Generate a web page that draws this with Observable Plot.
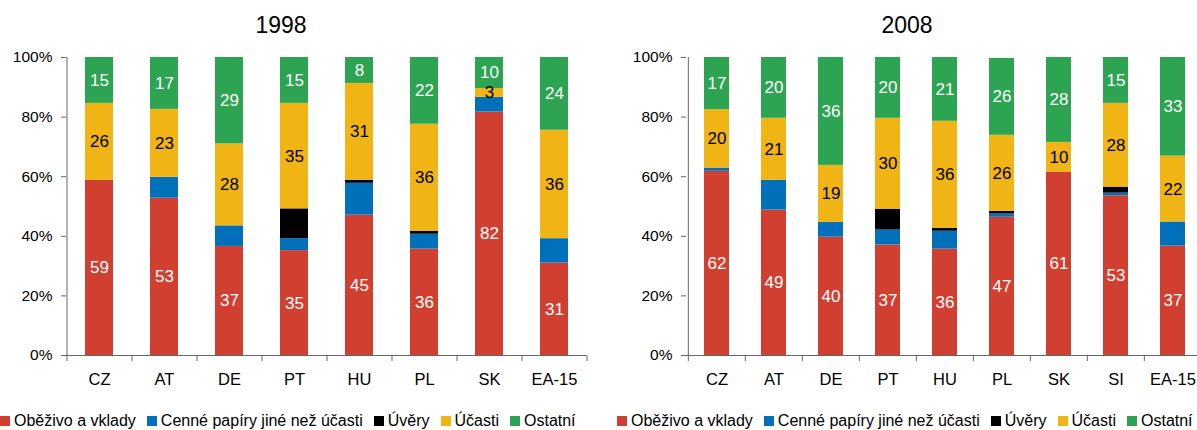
<!DOCTYPE html>
<html><head><meta charset="utf-8">
<script src="https://cdn.jsdelivr.net/npm/d3@7"></script>
<script src="https://cdn.jsdelivr.net/npm/@observablehq/plot@0.6"></script>
<style>
body{margin:0;background:#fff;}
#root{position:relative;width:1197px;height:430px;overflow:hidden;font-family:"Liberation Sans",Arial,sans-serif;color:#000;}
.panel{position:absolute;top:0;}
.panel svg{max-width:none !important;}
.title{position:absolute;top:11px;font-size:23px;line-height:28px;transform:translateX(-50%);}
.legend{position:absolute;top:411px;font-size:16px;line-height:19px;white-space:nowrap;display:flex;align-items:center;}
.legend .item{display:inline-flex;align-items:center;margin-right:11px;}
.legend .sw{display:inline-block;width:10px;height:10px;margin-right:4px;}
</style></head><body><div id="root"></div><script>
const series = ["Oběživo a vklady", "Cenné papíry jiné než účasti", "Úvěry", "Účasti", "Ostatní"];
const colors = ["#d13f31", "#0070ba", "#000000", "#f0b414", "#2ca452"];

const categories1998 = ["CZ", "AT", "DE", "PT", "HU", "PL", "SK", "EA-15"];
const vklady1998  = [58.8, 52.8, 36.6, 35.2, 47.1, 35.7, 81.7, 31.0];
const papiry1998  = [0, 7.0, 6.9, 4.0, 10.7, 5.0, 4.9, 8.2];
const uvery1998   = [0, 0, 0, 10.0, 1.0, 1.0, 0, 0];
const ucasti1998  = [25.8, 22.8, 27.5, 35.4, 32.5, 35.9, 3.0, 36.4];
const ostatni1998 = [15.4, 17.4, 29.0, 15.4, 8.7, 22.4, 10.4, 24.4];
const vkladyLabels1998  = [59, 53, 37, 35, 45, 36, 82, 31];
const ucastiLabels1998  = [26, 23, 28, 35, 31, 36, 3, 36];
const ostatniLabels1998 = [15, 17, 29, 15, 8, 22, 10, 24];

const categories2008 = ["CZ", "AT", "DE", "PT", "HU", "PL", "SK", "SI", "EA-15"];
const vklady2008  = [61.8, 48.8, 39.7, 37.1, 35.7, 46.4, 61.5, 53.6, 36.7];
const papiry2008  = [1.1, 10.0, 5.0, 5.0, 6.0, 1.1, 0, 0.9, 8.1];
const uvery2008   = [0, 0, 0, 7.0, 1.0, 0.9, 0, 2.0, 0];
const ucasti2008  = [19.6, 20.8, 19.1, 30.5, 35.9, 25.5, 10.0, 28.1, 22.1];
const ostatni2008 = [17.5, 20.4, 36.2, 20.4, 21.4, 25.8, 28.5, 15.4, 33.1];
const vkladyLabels2008  = [62, 49, 40, 37, 36, 47, 61, 53, 37];
const ucastiLabels2008  = [20, 21, 19, 30, 36, 26, 10, 28, 22];
const ostatniLabels2008 = [17, 20, 36, 20, 21, 26, 28, 15, 33];

const yTicks = [0, 20, 40, 60, 80, 100];
const axisColor = "#666";
const font = '"Liberation Sans", Arial, sans-serif';

function makePanel(cats, vals, labels, width, marginLeft, marginRight) {
  const data = [];
  series.forEach((s, si) => cats.forEach((c, ci) => data.push({
    cat: c, series: s, value: vals[si][ci],
    label: labels[si] ? labels[si][ci] : null
  })));
  const step = (width - marginLeft - marginRight) / cats.length;
  const svg = Plot.plot({
    width, height: 400, marginTop: 57, marginBottom: 45, marginLeft, marginRight,
    style: {fontFamily: font, fontSize: "16px", color: "#000", background: "transparent", overflow: "visible", maxWidth: "none"},
    x: {domain: cats, paddingInner: 0.57, paddingOuter: 0.285, label: null},
    y: {domain: [0, 100], label: null},
    color: {domain: series, range: colors},
    marks: [
      Plot.barY(data, Plot.stackY({x: "cat", y: "value", z: "series", fill: "series"})),
      Plot.text(data, Plot.stackY({x: "cat", y: "value", z: "series",
        text: d => d.series === "Účasti" ? d.label : null, fill: "black", fontSize: 17})),
      Plot.text(data, Plot.stackY({x: "cat", y: "value", z: "series",
        text: d => d.series !== "Účasti" ? d.label : null, fill: "white", fontSize: 17})),
      Plot.ruleY([0], {stroke: axisColor}),
      Plot.ruleX(cats, {x: d => d, dx: -step / 2, y1: 0, y2: 0, insetBottom: -6, stroke: axisColor}),
      Plot.ruleX([cats[cats.length - 1]], {x: d => d, dx: step / 2, y1: 0, y2: 0, insetBottom: -6, stroke: axisColor}),
      Plot.ruleX([cats[0]], {x: d => d, dx: -step / 2, y1: 0, y2: 100, stroke: axisColor}),
      Plot.axisY({ticks: yTicks, tickFormat: d => d + "%", tickSize: 5, tickPadding: 9, stroke: axisColor, fontSize: 15.5}),
      Plot.axisX({tickSize: 0, tickPadding: 18, fontSize: 16.5})
    ]
  });
  svg.style.maxWidth = "none";
  return svg;
}

const root = document.getElementById("root");

function addPanel(svg, left) {
  const d = document.createElement("div");
  d.className = "panel";
  d.style.left = left + "px";
  d.style.width = svg.getAttribute("width") + "px";
  d.appendChild(svg);
  root.appendChild(d);
}

addPanel(makePanel(categories1998,
  [vklady1998, papiry1998, uvery1998, ucasti1998, ostatni1998],
  [vkladyLabels1998, null, null, ucastiLabels1998, ostatniLabels1998], 600, 66, 14), 0);
addPanel(makePanel(categories2008,
  [vklady2008, papiry2008, uvery2008, ucasti2008, ostatni2008],
  [vkladyLabels2008, null, null, ucastiLabels2008, ostatniLabels2008], 616, 86, 14), 600);

function addTitle(text, cx) {
  const t = document.createElement("div");
  t.className = "title";
  t.style.left = cx + "px";
  t.textContent = text;
  root.appendChild(t);
}
addTitle("1998", 281);
addTitle("2008", 907);

function addLegend(left) {
  const l = document.createElement("div");
  l.className = "legend";
  l.style.left = left + "px";
  series.forEach((s, i) => {
    const it = document.createElement("span");
    it.className = "item";
    const sw = document.createElement("span");
    sw.className = "sw";
    sw.style.background = colors[i];
    it.appendChild(sw);
    it.appendChild(document.createTextNode(s));
    l.appendChild(it);
  });
  root.appendChild(l);
}
addLegend(0);
addLegend(617);
</script></body></html>
